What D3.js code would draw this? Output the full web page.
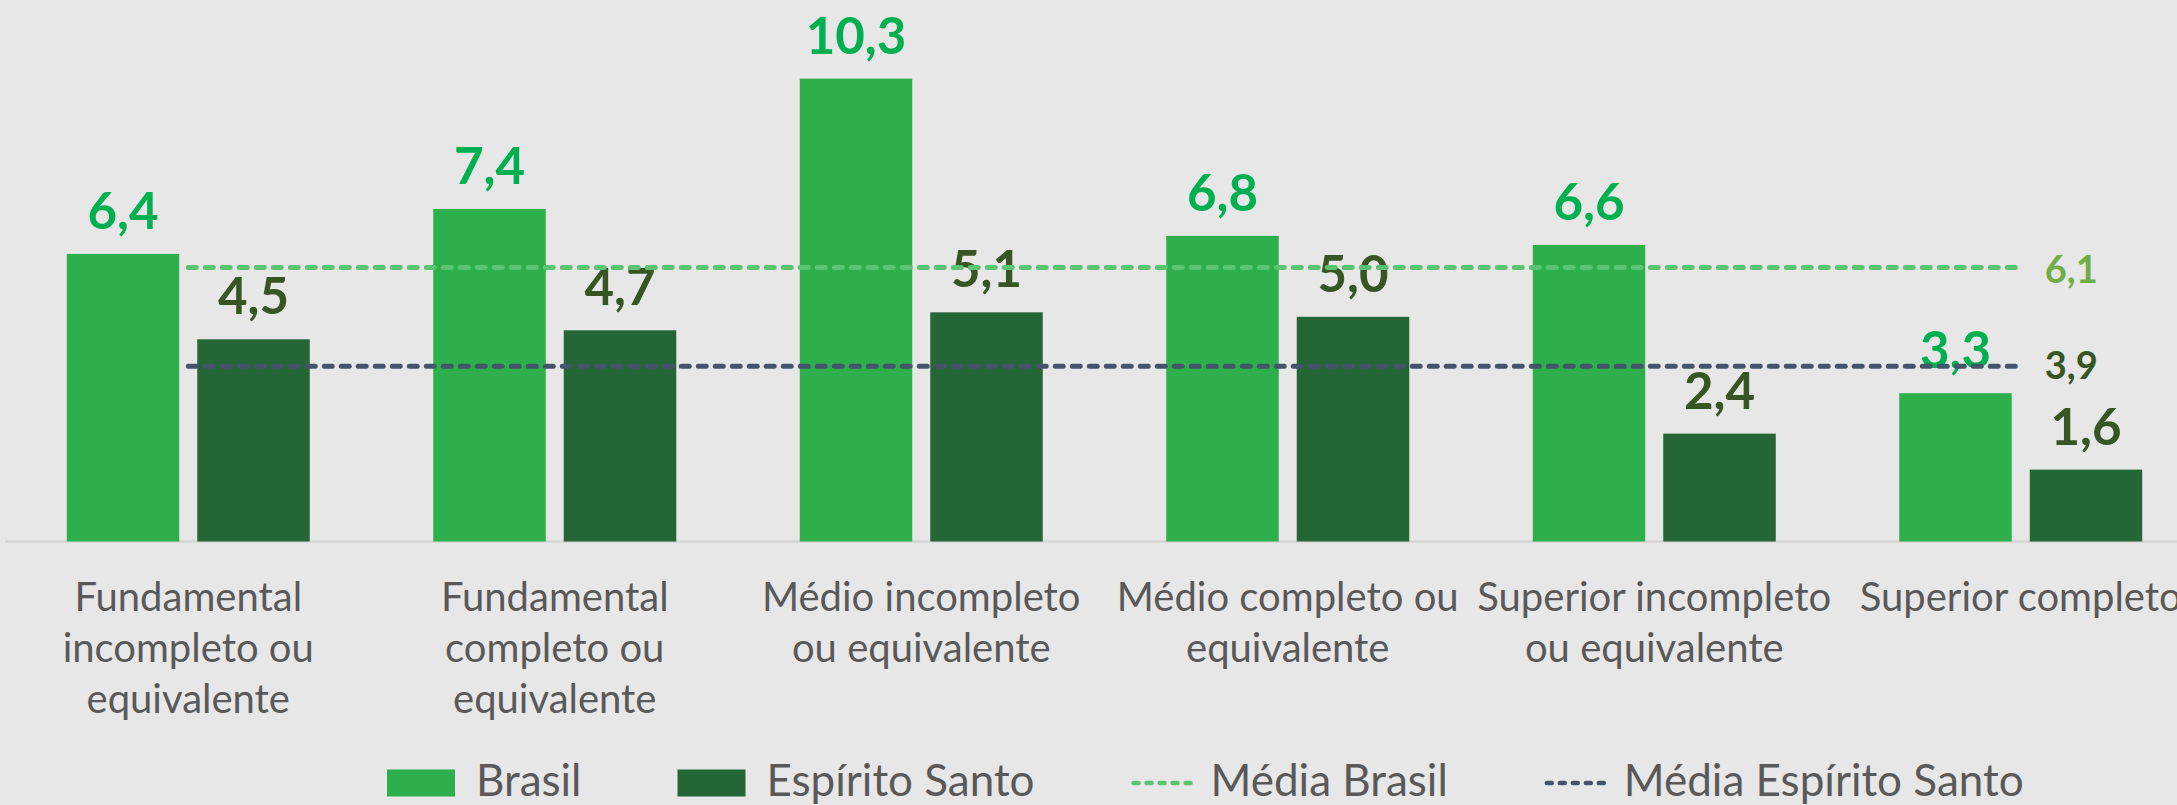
<!DOCTYPE html>
<html>
<head>
<meta charset="utf-8">
<script src="https://cdn.jsdelivr.net/npm/d3@7"></script>
<style>
  html, body { margin: 0; padding: 0; background: #e7e7e7; }
  svg { display: block; font-family: Lato, "Open Sans", sans-serif; }
</style>
</head>
<body>
<svg id="chart"></svg>
<script>
// Escolaridade: Brasil x Espírito Santo, com médias

const categories = [
    ["Fundamental", "incompleto ou", "equivalente"],
    ["Fundamental", "completo ou", "equivalente"],
    ["Médio incompleto", "ou equivalente"],
    ["Médio completo ou", "equivalente"],
    ["Superior incompleto", "ou equivalente"],
    ["Superior completo"]
];
const brasil = [6.4, 7.4, 10.3, 6.8, 6.6, 3.3];
const espiritoSanto = [4.5, 4.7, 5.1, 5.0, 2.4, 1.6];
const mediaBrasil = 6.1;
const mediaES = 3.9;
const seriesNames = ["Brasil", "Espírito Santo"];
const legendNames = ["Brasil", "Espírito Santo", "Média Brasil", "Média Espírito Santo"];

const width = 2177;
const height = 805;
const baseY = 541.5;

const colors = {
    brasil: "#2daf4b",
    es: "#256637",
    brasilLabel: "#00b050",
    esLabel: "#375623",
    mediaBrasil: "#5cc470",
    mediaES: "#44546a",
    mediaBrasilLabel: "#70ad47",
    text: "#595959"
};

const svg = d3.select("#chart")
    .attr("width", width)
    .attr("height", height);

svg.append("rect")
    .attr("width", width)
    .attr("height", height)
    .attr("fill", "#e7e7e7");

const catIdx = d3.range(categories.length);

const x0 = d3.scaleBand()
    .domain(catIdx)
    .range([5, 5 + 366.5 * categories.length])
    .padding(0);

const x1 = d3.scaleBand()
    .domain(seriesNames)
    .range([61.75, 61.75 + 243])
    .paddingInner(0.138)
    .paddingOuter(0);

const y = d3.scaleLinear()
    .domain([0, 12.05])
    .range([baseY, 0]);

const fmt = v => d3.format(".1f")(v).replace(".", ",");

// baseline
svg.append("line")
    .attr("x1", 5).attr("x2", width)
    .attr("y1", baseY).attr("y2", baseY)
    .attr("stroke", "#d6d6d6")
    .attr("stroke-width", 2.5);

const rows = catIdx.map(i => ({ i, values: [brasil[i], espiritoSanto[i]] }));

const groups = svg.selectAll("g.group")
    .data(rows)
    .enter().append("g")
    .attr("class", "group")
    .attr("transform", d => `translate(${x0(d.i)},0)`);

groups.selectAll("rect")
    .data(d => d.values.map((v, k) => ({ k, v })))
    .enter().append("rect")
    .attr("x", d => x1(seriesNames[d.k]))
    .attr("width", x1.bandwidth())
    .attr("y", d => y(d.v))
    .attr("height", d => baseY - y(d.v))
    .attr("fill", d => d.k === 0 ? colors.brasil : colors.es);

// mean lines from first to last category centre
const cx = i => x0(i) + x0.bandwidth() / 2;
const meanLines = [
    { v: mediaBrasil, color: colors.mediaBrasil, label: colors.mediaBrasilLabel, dy: 16 },
    { v: mediaES, color: colors.mediaES, label: colors.esLabel, dy: 13 }
];

meanLines.forEach(m => {
    svg.append("path")
        .attr("d", d3.line()(catIdx.map(i => [cx(i), y(m.v)])))
        .attr("fill", "none")
        .attr("stroke", m.color)
        .attr("stroke-width", 5)
        .attr("stroke-linecap", "round")
        .attr("stroke-dasharray", "8,9");
    svg.append("text")
        .attr("x", cx(catIdx.length - 1) + 24)
        .attr("y", y(m.v) + m.dy)
        .attr("font-size", 38)
        .attr("font-weight", 700)
        .attr("fill", m.label)
        .text(fmt(m.v));
});

// value labels
groups.selectAll("text.val")
    .data(d => d.values.map((v, k) => ({ k, v })))
    .enter().append("text")
    .attr("class", "val")
    .attr("x", d => x1(seriesNames[d.k]) + x1.bandwidth() / 2)
    .attr("y", d => y(d.v) - 25)
    .attr("text-anchor", "middle")
    .attr("font-size", 51)
    .attr("font-weight", 700)
    .attr("fill", d => d.k === 0 ? colors.brasilLabel : colors.esLabel)
    .text(d => fmt(d.v));

// category labels
const catText = svg.selectAll("text.cat")
    .data(catIdx)
    .enter().append("text")
    .attr("class", "cat")
    .attr("text-anchor", "middle")
    .attr("font-size", 40)
    .attr("fill", colors.text);

catText.selectAll("tspan")
    .data(i => categories[i].map((t, j) => ({ t, j, i })))
    .enter().append("tspan")
    .attr("x", d => cx(d.i))
    .attr("y", d => 611 + d.j * 51)
    .text(d => d.t);

// legend
const legend = svg.append("g").attr("class", "legend");
let lx = 387;
const legendY = 783;
legendNames.forEach((name, k) => {
    let tx;
    if (k < 2) {
        legend.append("rect")
            .attr("x", lx).attr("y", legendY - 13.5)
            .attr("width", 68).attr("height", 27)
            .attr("fill", k === 0 ? colors.brasil : colors.es);
        tx = lx + 89;
    } else {
        legend.append("line")
            .attr("x1", lx + 3).attr("x2", lx + 68)
            .attr("y1", legendY).attr("y2", legendY)
            .attr("stroke", k === 2 ? colors.mediaBrasil : colors.mediaES)
            .attr("stroke-width", 4.5)
            .attr("stroke-linecap", "round")
            .attr("stroke-dasharray", "5,8");
        tx = lx + 80;
    }
    const t = legend.append("text")
        .attr("x", tx)
        .attr("y", legendY + 13)
        .attr("font-size", 44)
        .attr("fill", colors.text)
        .text(name);
    lx = tx + t.node().getComputedTextLength() + 96;
});
</script>
</body>
</html>
